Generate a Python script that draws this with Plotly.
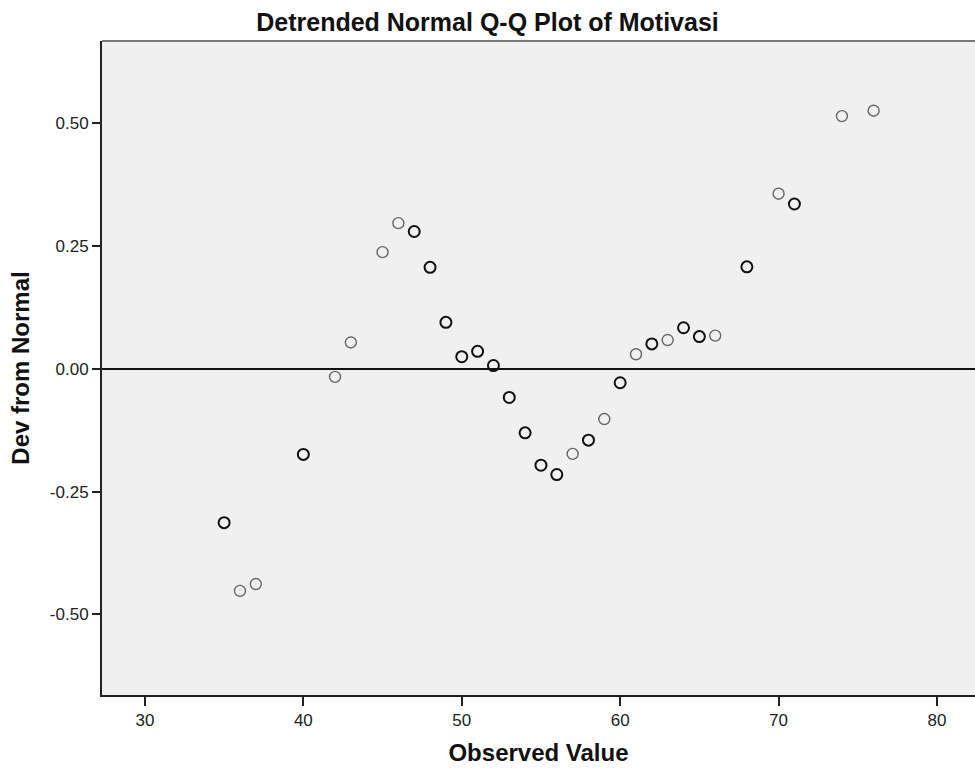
import plotly.graph_objects as go

# Observed values and their deviation from normal
observed = [35, 36, 37, 40, 42, 43, 45, 46, 47, 48, 49, 50, 51, 52, 53, 54, 55,
            56, 57, 58, 59, 60, 61, 62, 63, 64, 65, 66, 68, 70, 71, 74, 76]
dev_from_normal = [-0.313, -0.452, -0.438, -0.174, -0.016, 0.054, 0.238, 0.297,
                   0.280, 0.207, 0.095, 0.025, 0.036, 0.007, -0.058, -0.130,
                   -0.196, -0.215, -0.173, -0.145, -0.102, -0.028, 0.030, 0.051,
                   0.059, 0.084, 0.066, 0.068, 0.208, 0.357, 0.336, 0.515, 0.526]
# estimated number of cases sharing each observed value (overlapping markers look darker)
frequency = [2, 1, 1, 2, 1, 1, 1, 1, 3, 3, 3, 2, 2, 3, 3, 3, 2,
             2, 1, 2, 1, 2, 1, 2, 1, 2, 2, 1, 2, 1, 2, 1, 1]

x_ticks = [30, 40, 50, 60, 70, 80]
y_ticks = [-0.5, -0.25, 0.0, 0.25, 0.5]
y_tick_text = ["-0.50", "-0.25", "0.00", "0.25", "0.50"]

title_text = "Detrended Normal Q-Q Plot of Motivasi"
x_title = "Observed Value"
y_title = "Dev from Normal"

line_colors = ["#111111" if f > 1 else "#666666" for f in frequency]
line_widths = [2.0 if f > 1 else 1.4 for f in frequency]

fig = go.Figure()
fig.add_trace(go.Scatter(
    x=observed, y=dev_from_normal, mode="markers",
    marker=dict(symbol="circle-open", size=11,
                color=line_colors,
                line=dict(color=line_colors, width=line_widths)),
    showlegend=False, cliponaxis=False, hoverinfo="skip",
))

fig.add_hline(y=0, line=dict(color="#111111", width=2), layer="below")
# top border of the plot frame
fig.add_shape(type="line", xref="x domain", yref="y domain", x0=0, x1=1, y0=1, y1=1,
              line=dict(color="#7a7a7a", width=2))

font_family = "Liberation Sans, Arial, sans-serif"

fig.update_layout(
    width=975, height=771,
    margin=dict(l=102, r=0, t=41, b=76),
    paper_bgcolor="white", plot_bgcolor="#F0F0F0",
    title=dict(text="<b>" + title_text + "</b>", x=0.5, xref="container", xanchor="center",
               y=1 - 22 / 771, yref="container", yanchor="middle",
               font=dict(family=font_family, size=25, color="#111111")),
    font=dict(family=font_family, color="#222222"),
    xaxis=dict(range=[27.29, 82.40], tickvals=x_ticks, ticks="outside", ticklen=9,
               tickwidth=1.5, tickcolor="#222222", showgrid=False, zeroline=False,
               showline=True, linecolor="#222222", linewidth=2,
               tickfont=dict(size=17, color="#222222"),
               title=dict(text="<b>" + x_title + "</b>", standoff=15,
                          font=dict(size=24, color="#111111"))),
    yaxis=dict(range=[-0.664, 0.668], tickvals=y_ticks, ticktext=y_tick_text,
               ticks="outside", ticklen=8, tickwidth=1.5, tickcolor="#222222",
               showgrid=False, zeroline=False, showline=True, linecolor="#222222",
               linewidth=2, tickfont=dict(size=17, color="#222222"),
               title=dict(text="<b>" + y_title + "</b>", standoff=13,
                          font=dict(size=24, color="#111111"))),
)

fig.write_html("out.html", config={"displayModeBar": False},
               post_script="document.body.style.margin='0';")
